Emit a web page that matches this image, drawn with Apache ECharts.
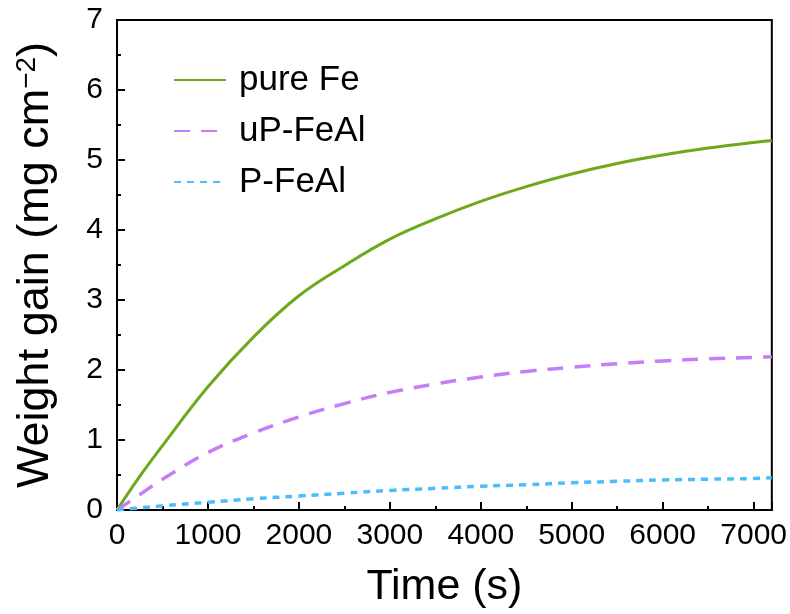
<!DOCTYPE html>
<html>
<head>
<meta charset="utf-8">
<script src="https://cdn.jsdelivr.net/npm/echarts@6/dist/echarts.min.js"></script>
<style>html,body{margin:0;padding:0;background:#fff}#c{width:790px;height:614px}</style>
</head>
<body>
<div id="c"></div>
<script>
var timeS = [0, 250, 500, 1000, 1500, 2000, 2500, 3000, 3500, 4000, 4500, 5000, 5500, 6000, 6500, 7000, 7200];
var pureFe = [0, 0.48, 0.92, 1.76, 2.47, 3.06, 3.49, 3.87, 4.16, 4.41, 4.62, 4.80, 4.95, 5.07, 5.17, 5.25, 5.28];
var uPFeAl = [0, 0.22, 0.44, 0.82, 1.10, 1.33, 1.52, 1.68, 1.80, 1.90, 1.98, 2.04, 2.09, 2.13, 2.16, 2.18, 2.19];
var PFeAl = [0, 0.03, 0.06, 0.11, 0.16, 0.20, 0.24, 0.28, 0.31, 0.34, 0.36, 0.39, 0.41, 0.43, 0.44, 0.45, 0.46];
var seriesNames = ['pure Fe', 'uP-FeAl', 'P-FeAl'];

function pairs(ys) { return timeS.map(function (t, i) { return [t, ys[i]]; }); }

var FONT = 'Liberation Sans, Arial, sans-serif';
var chart = echarts.init(document.getElementById('c'));
chart.setOption({
  animation: false,
  backgroundColor: '#fff',
  grid: { left: 117, right: 17, top: 20, bottom: 103, show: true, borderColor: '#000', borderWidth: 2, backgroundColor: 'transparent' },
  legend: {
    orient: 'vertical', left: 168, top: 56, itemWidth: 52, itemHeight: 20, itemGap: 13,
    itemStyle: { opacity: 0 },
    textStyle: { fontFamily: FONT, fontSize: 35, lineHeight: 38, color: '#000', padding: [0, 0, 0, 8] },
    data: seriesNames
  },
  xAxis: {
    type: 'value', min: 0, max: 7200, interval: 1000,
    name: 'Time (s)', nameLocation: 'middle', nameGap: 56,
    nameTextStyle: { fontFamily: FONT, fontSize: 43, color: '#000' },
    axisLine: { lineStyle: { color: '#000', width: 2 } },
    axisTick: { inside: true, length: 8, lineStyle: { color: '#000', width: 2 } },
    minorTick: { show: true, splitNumber: 2, length: 4, lineStyle: { color: '#000', width: 2 } },
    axisLabel: { fontFamily: FONT, fontSize: 30, color: '#000', margin: 11, showMaxLabel: false,
      formatter: function (v) { return String(v); } },
    splitLine: { show: false }
  },
  yAxis: {
    type: 'value', min: 0, max: 7, interval: 1,
    name: 'Weight gain (mg cm{sup|−2})', nameLocation: 'middle', nameGap: 59,
    nameTextStyle: { fontFamily: FONT, fontSize: 45, color: '#000',
      rich: { sup: { fontFamily: FONT, fontSize: 28, color: '#000', verticalAlign: 'top', lineHeight: 26, padding: [0, 0, 18, 0] } } },
    axisLine: { lineStyle: { color: '#000', width: 2 } },
    axisTick: { inside: true, length: 8, lineStyle: { color: '#000', width: 2 } },
    minorTick: { show: true, splitNumber: 2, length: 4, lineStyle: { color: '#000', width: 2 } },
    axisLabel: { fontFamily: FONT, fontSize: 30, color: '#000', margin: 14 },
    splitLine: { show: false }
  },
  series: [
    { name: seriesNames[0], type: 'line', smooth: 0.4, symbol: 'none', data: pairs(pureFe),
      lineStyle: { color: '#6ea81b', width: 3 }, itemStyle: { color: '#6ea81b' } },
    { name: seriesNames[1], type: 'line', smooth: 0.4, symbol: 'none', data: pairs(uPFeAl),
      lineStyle: { color: '#c67df8', width: 3.5, type: [16, 11] }, itemStyle: { color: '#c67df8' } },
    { name: seriesNames[2], type: 'line', smooth: 0.4, symbol: 'none', data: pairs(PFeAl),
      lineStyle: { color: '#4cbdfa', width: 3.5, type: [7, 6] }, itemStyle: { color: '#4cbdfa' } }
  ]
});
</script>
</body>
</html>
